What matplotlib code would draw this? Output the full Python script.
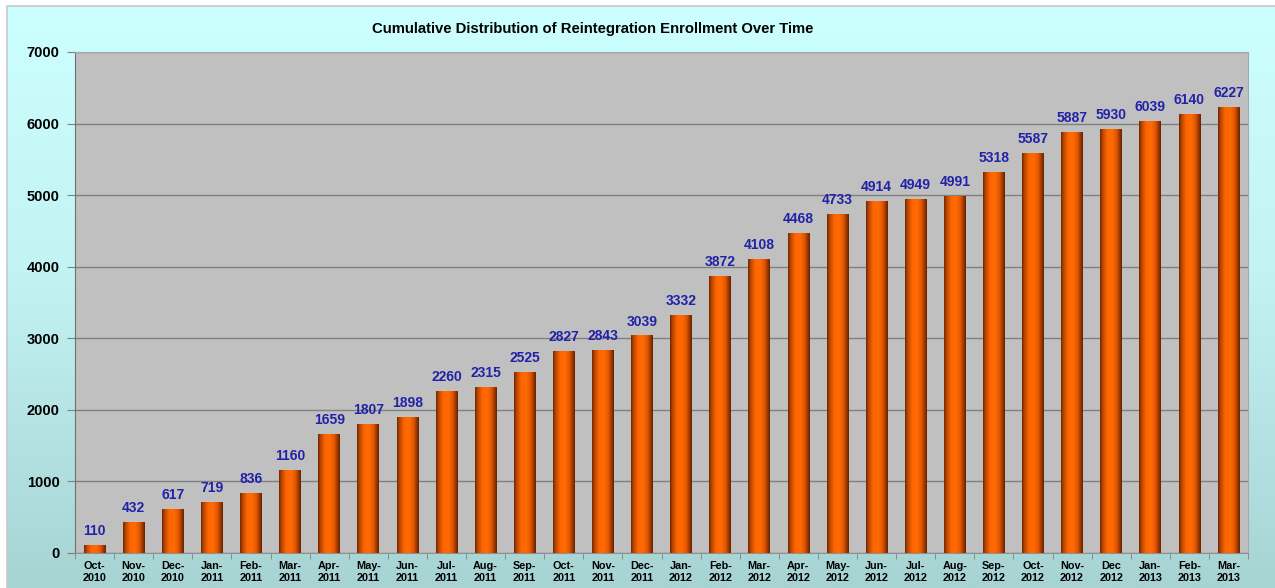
import numpy as np
import matplotlib
matplotlib.use("Agg")
import matplotlib.pyplot as plt
from matplotlib.colors import LinearSegmentedColormap
from matplotlib.patches import Rectangle

plt.rcParams['font.family'] = ['Liberation Sans', 'DejaVu Sans']

# Monatsdaten
monate = ["Oct-\n2010", "Nov-\n2010", "Dec-\n2010", "Jan-\n2011", "Feb-\n2011", "Mar-\n2011",
          "Apr-\n2011", "May-\n2011", "Jun-\n2011", "Jul-\n2011", "Aug-\n2011", "Sep-\n2011",
          "Oct-\n2011", "Nov-\n2011", "Dec-\n2011", "Jan-\n2012", "Feb-\n2012", "Mar-\n2012",
          "Apr-\n2012", "May-\n2012", "Jun-\n2012", "Jul-\n2012", "Aug-\n2012", "Sep-\n2012",
          "Oct-\n2012", "Nov-\n2012", "Dec\n2012", "Jan-\n2013", "Feb-\n2013", "Mar-\n2013"]
enrollment = [110, 432, 617, 719, 836, 1160, 1659, 1807, 1898, 2260, 2315, 2525,
              2827, 2843, 3039, 3332, 3872, 4108, 4468, 4733, 4914, 4949, 4991, 5318,
              5587, 5887, 5930, 6039, 6140, 6227]
y_ticks = [0, 1000, 2000, 3000, 4000, 5000, 6000, 7000]

W, H = 1275, 588
fig = plt.figure(figsize=(W / 100, H / 100), dpi=100)
fig.patch.set_facecolor("white")

# Hintergrund mit Verlauf
bg = fig.add_axes([7 / W, 0, 1 - 7 / W, 1 - 6 / H], zorder=-10)
bg_cmap = LinearSegmentedColormap.from_list("bg", [(0, "#a7d3d3"), (0.55, "#c3f3f3"), (1, "#ccffff")])
bg.imshow(np.linspace(0, 1, 256).reshape(-1, 1), cmap=bg_cmap, aspect="auto",
          extent=[0, 1, 0, 1], origin="lower")
bg.set_axis_off()
fig.patches.append(Rectangle((7 / W, -0.01), 1.02, 1.01 - 6 / H, transform=fig.transFigure,
                             fill=False, edgecolor="#c8c8c8", linewidth=1.2, zorder=-9))

ax = fig.add_axes([75 / W, 1 - 553 / H, (1248 - 75) / W, (553 - 52) / H])
ax.set_facecolor("#c0c0c0")

x = np.arange(len(enrollment))
bars = ax.bar(x, enrollment, width=0.55, color="#ff6600", edgecolor="none", zorder=3)

# Zylinder-Effekt
bar_cmap = LinearSegmentedColormap.from_list(
    "bar", [(0, "#702600"), (0.12, "#b84600"), (0.33, "#ff6600"), (0.55, "#ff6a05"),
            (0.75, "#e45800"), (0.9, "#983600"), (1, "#652200")])
grad = np.linspace(0, 1, 128).reshape(1, -1)
for b in bars:
    x0, w, h = b.get_x(), b.get_width(), b.get_height()
    im = ax.imshow(grad, cmap=bar_cmap, aspect="auto", extent=[x0, x0 + w, 0, h], zorder=3.5)
    im.set_clip_path(b)

for xi, v in zip(x, enrollment):
    ax.annotate(str(v), (xi, v), xytext=(0, 5), textcoords="offset points",
                ha="center", va="bottom", fontsize=10, fontweight="bold", color="#2222a8", zorder=5)

ax.set_xlim(-0.5, len(enrollment) - 0.5)
ax.set_ylim(0, 7000)
ax.set_yticks(y_ticks)
ax.set_yticklabels([str(t) for t in y_ticks], fontsize=10.5, fontweight="bold")
ax.yaxis.grid(True, color="#808080", linewidth=1.0, zorder=1)
ax.set_axisbelow(True)

ax.set_xticks(x)
ax.set_xticklabels(monate, fontsize=7.8, fontweight="bold", linespacing=1.15)
ax.set_xticks(np.arange(-0.5, len(enrollment), 1), minor=True)
ax.tick_params(axis="x", which="major", length=0, pad=6)
ax.tick_params(axis="x", which="minor", length=4, color="#808080", direction="out")
ax.tick_params(axis="y", length=6, color="#808080", pad=5)

for side in ["top", "right"]:
    ax.spines[side].set_color("#a8a8a8")
    ax.spines[side].set_linewidth(0.8)
ax.spines["left"].set_color("#707070")
ax.spines["bottom"].set_color("#909090")

fig.text(593 / W, 1 - 29 / H, "Cumulative Distribution of Reintegration Enrollment Over Time",
         ha="center", va="center", fontsize=10.7, fontweight="bold")

plt.savefig("out.png", dpi=100)
